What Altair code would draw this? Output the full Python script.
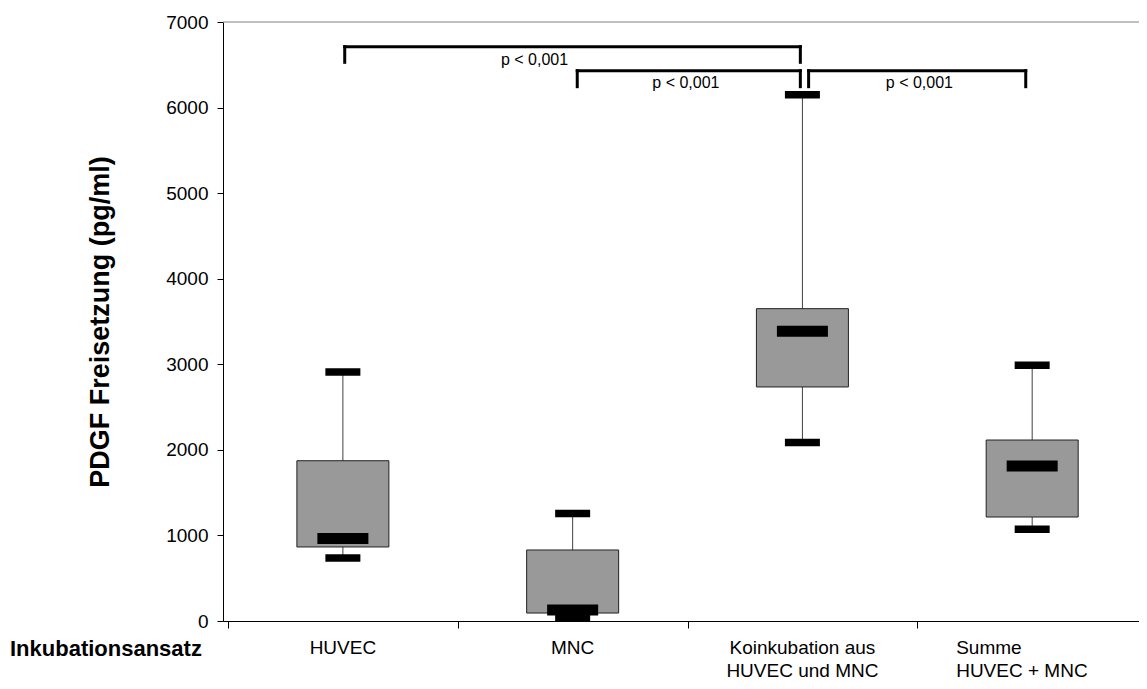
import altair as alt
import pandas as pd

# ---- data ----
categories = ["HUVEC", "MNC", "Koinkubation aus\nHUVEC und MNC", "Summe\nHUVEC + MNC"]
lower  = [736, 35, 2086, 1073]
q1     = [865, 93, 2735, 1215]
median = [964, 128, 3385, 1811]
q3     = [1873, 830, 3650, 2115]
upper  = [2910, 1256, 6150, 2990]

# significance brackets (x in category units, y in pg/ml)
br_x1  = [0.508, 1.520, 2.527]
br_x2  = [2.491, 2.491, 3.472]
br_top = [6712, 6431, 6431]
br_leg = [6529, 6244, 6244]
p_text = ["p < 0,001", "p < 0,001", "p < 0,001"]
p_x    = [1.334, 1.993, 3.009]
p_y    = [6556, 6290, 6290]

FONT = "Liberation Sans"
W, H = 916, 599
XMAX = W / 232.3

pos = [i + 0.5 for i in range(len(categories))]
box = pd.DataFrame({"cat": categories, "pos": pos, "lower": lower, "q1": q1,
                    "median": median, "q3": q3, "upper": upper,
                    "left": [c.startswith("Summe") for c in categories]})
caps = pd.concat([
    pd.DataFrame({"pos": pos, "v": lower}),
    pd.DataFrame({"pos": pos, "v": upper}),
])
br = pd.DataFrame({"x1": br_x1, "x2": br_x2, "top": br_top, "leg": br_leg})
legs = pd.concat([
    pd.DataFrame({"x": br_x1, "top": br_top, "leg": br_leg}),
    pd.DataFrame({"x": br_x2, "top": br_top, "leg": br_leg}),
])
ptxt = pd.DataFrame({"t": p_text, "x": p_x, "y": p_y})

xs = alt.Scale(domain=[0, XMAX], nice=False, zero=False)
ys = alt.Scale(domain=[0, 7000], nice=False, zero=True)

xaxis = alt.Axis(values=[0, 1, 2, 3, 4], labels=False, title=None, grid=False,
                 tickSize=7, tickColor="black", domainColor="black",
                 domainWidth=1, tickWidth=1)
yaxis = alt.Axis(values=list(range(0, 7001, 1000)), format="d", grid=False,
                 tickSize=6, tickColor="black", domainColor="black",
                 labelFont=FONT, labelFontSize=19, labelColor="black", labelPadding=9,
                 title="PDGF Freisetzung (pg/ml)", titleFont=FONT, titleFontSize=27,
                 titleFontWeight="bold", titleColor="black", titleAngle=270,
                 titleX=-123, titleY=H / 2, titleAlign="center", titleBaseline="middle")

X = lambda f: alt.X(f, type="quantitative", scale=xs, axis=xaxis)
Y = lambda f: alt.Y(f, type="quantitative", scale=ys, axis=yaxis)

top_line = alt.Chart(pd.DataFrame({"y": [7000]})).mark_rule(
    color="#808080", strokeWidth=1).encode(y=Y("y"))

whisk = alt.Chart(box).mark_rule(color="#404040", strokeWidth=1).encode(
    x=X("pos"), y=Y("lower"), y2="upper")

boxes = alt.Chart(box).mark_bar(size=92, color="#999999", stroke="#222222",
                                strokeWidth=1).encode(
    x=X("pos"), y=Y("q1"), y2="q3")

med = alt.Chart(box).mark_tick(orient="horizontal", size=51, thickness=11,
                               color="black", opacity=1).encode(
    x=X("pos"), y=Y("median"))

cap = alt.Chart(caps).mark_tick(orient="horizontal", size=35, thickness=7.5,
                                color="black", opacity=1).encode(
    x=X("pos"), y=Y("v"))

br_h = alt.Chart(br).mark_rule(color="black", strokeWidth=3, strokeCap="square").encode(
    x=X("x1"), x2="x2", y=Y("top"))
br_v = alt.Chart(legs).mark_rule(color="black", strokeWidth=3, strokeCap="square").encode(
    x=X("x"), y=Y("top"), y2="leg")

ptext = alt.Chart(ptxt).mark_text(font=FONT, fontSize=16, color="black",
                                  baseline="middle", align="center").encode(
    x=X("x"), y=Y("y"), text="t:N")

lab_c = alt.Chart(box).transform_filter("!datum.left").mark_text(
    font=FONT, fontSize=19, color="black", align="center", baseline="top",
    lineBreak="\n", lineHeight=23).encode(
    x=X("pos"), y=alt.value(H + 18), text="cat:N")
lab_l = alt.Chart(box).transform_filter("datum.left").mark_text(
    font=FONT, fontSize=19, color="black", align="left", baseline="top",
    lineBreak="\n", lineHeight=23, dx=-76).encode(
    x=X("pos"), y=alt.value(H + 18), text="cat:N")

ink = alt.Chart(pd.DataFrame({"t": ["Inkubationsansatz"]})).mark_text(
    font=FONT, fontSize=22, fontWeight="bold", color="black", align="left",
    baseline="middle").encode(x=alt.value(-213), y=alt.value(H + 28), text="t:N")

chart = alt.layer(top_line, whisk, boxes, med, cap, br_h, br_v, ptext,
                  lab_c, lab_l, ink).properties(
    width=W, height=H,
    autosize=alt.AutoSizeParams(type="none"),
    padding={"left": 215, "top": 14, "right": 0, "bottom": 60},
    background="white",
).configure_view(stroke=None)

chart.save("out.html", embed_options={"renderer": "svg", "actions": False})
